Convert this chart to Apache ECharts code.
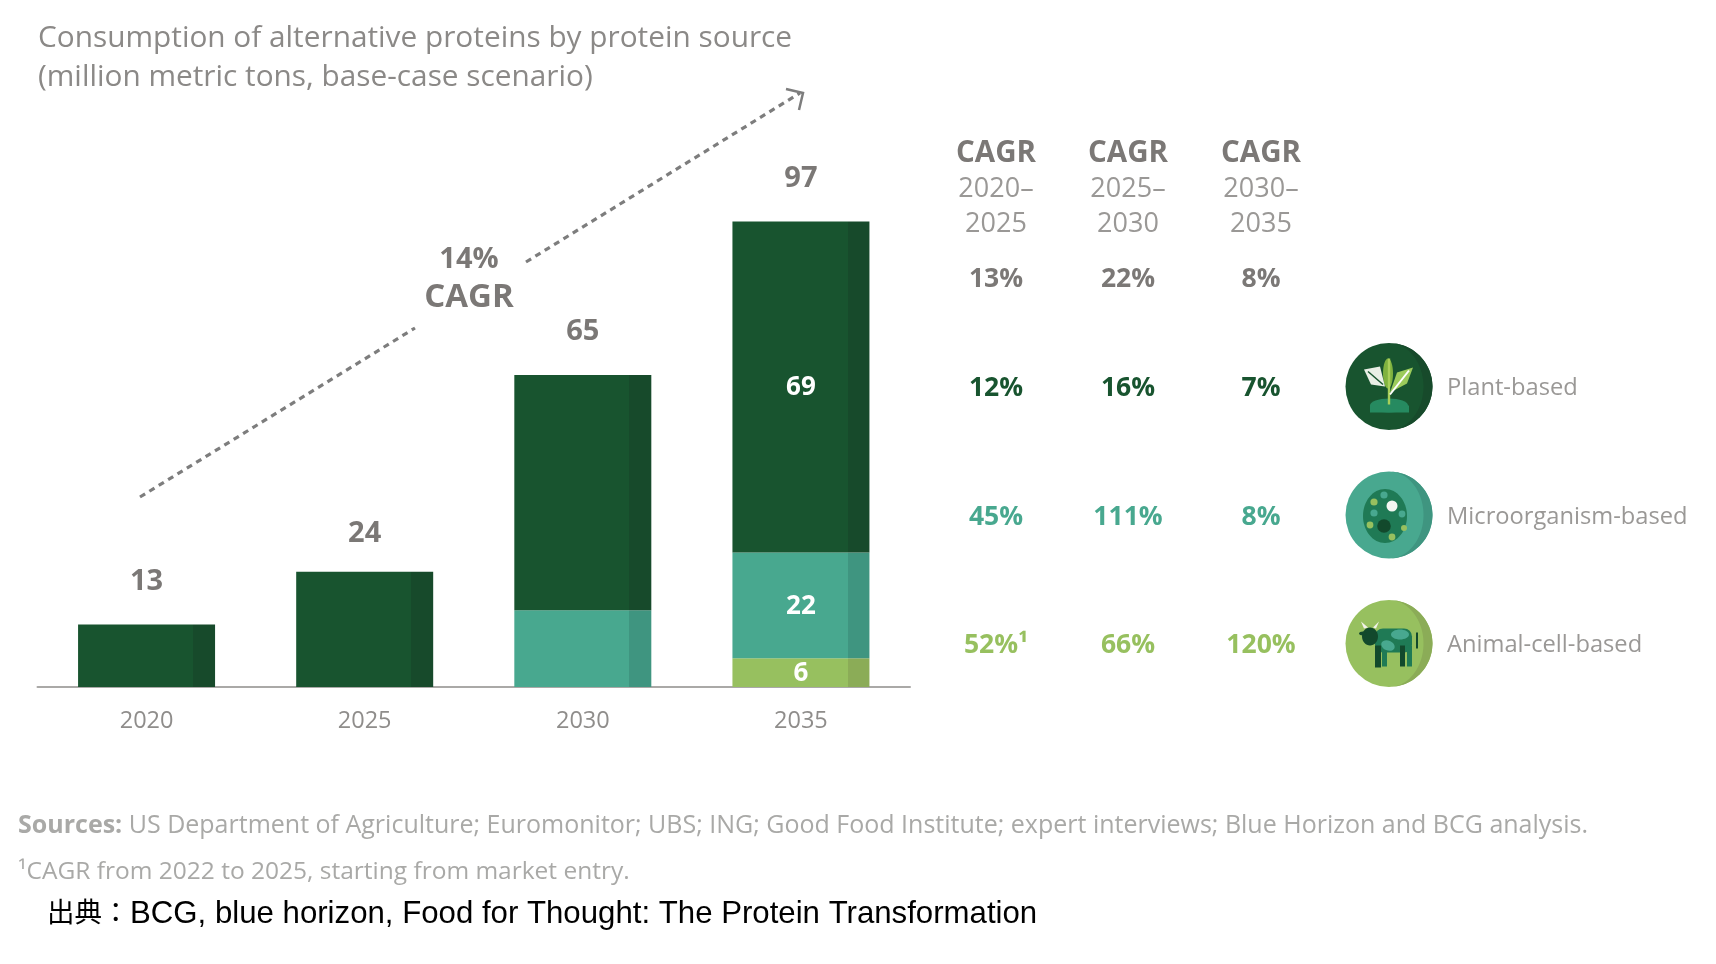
<!DOCTYPE html>
<html><head><meta charset="utf-8">
<style>html,body{margin:0;padding:0;background:#fff}#c{width:1716px;height:964px}</style>
<script src="https://cdn.jsdelivr.net/npm/echarts@6/dist/echarts.min.js"></script>
</head><body><div id="c"></div>
<script>
const categories = ['2020','2025','2030','2035'];
const plantBased = [13,24,49,69];
const microBased = [0,0,16,22];
const animalBased = [0,0,0,6];
const totals = [13,24,65,97];
const labelledYear = '2035';
const cagrHeaders = ['2020–\n2025','2025–\n2030','2030–\n2035'];
const cagrTotal = ['13%','22%','8%'];
const cagrPlant = ['12%','16%','7%'];
const cagrMicro = ['45%','111%','8%'];
const cagrAnimal = ['52%¹','66%','120%'];
const sourceNames = ['Plant-based','Microorganism-based','Animal-cell-based'];

const FONT='"Open Sans"';
const GREY='#7b7876', LIGHT='#9a9896';
const C={plant:'#18542f',plantD:'#174a2b',micro:'#48a88f',microD:'#3f9580',animal:'#97c05f',animalD:'#8bac57'};
const stripe=(a,b)=>({type:'linear',x:0,y:0,x2:1,y2:0,colorStops:[{offset:0,color:a},{offset:.84,color:a},{offset:.84,color:b},{offset:1,color:b}]});
const barSeries=(name,data,a,b)=>({name,type:'bar',stack:'s',barWidth:137,data:data.map((v,i)=>({value:v,label:{show:categories[i]===labelledYear}})),
  itemStyle:{color:stripe(a,b)},label:{position:'inside',offset:[0,1],color:'#fff',fontFamily:FONT,fontWeight:'bold',fontSize:26},silent:true});

const colX=[996,1128,1261];
const txt=(text,x,y,size,fill,weight,align,fam)=>({type:'text',silent:true,style:{text,x,y,fill,font:`${weight||'normal'} ${size}px ${fam||FONT}`,align:align||'center',verticalAlign:'middle',textAlign:align||'center',textVerticalAlign:'middle'}});
const g=[];
colX.forEach((x,i)=>{
  g.push(txt('CAGR',x,154,29.5,GREY,'bold'));
  const [a,b]=cagrHeaders[i].split('\n');
  g.push(txt(a,x,189,27,LIGHT));
  g.push(txt(b,x,224,27,LIGHT));
  g.push(txt(cagrTotal[i],x,279,26.5,GREY,'bold'));
  g.push(txt(cagrPlant[i],x,388,26.5,C.plant,'bold'));
  g.push(txt(cagrMicro[i],x,517,26.5,C.micro,'bold'));
  g.push(txt(cagrAnimal[i],x,645,26.5,C.animal,'bold'));
});
g.push(txt('14%',469,260,29,GREY,'bold'));
g.push(txt('CAGR',469,298,33,GREY,'bold'));
const dash={stroke:'#7d7d7d',lineWidth:3.2,lineDash:[6,5]};
g.push({type:'line',silent:true,shape:{x1:140,y1:497,x2:415,y2:328},style:dash});
g.push({type:'line',silent:true,shape:{x1:526,y1:262,x2:800,y2:93},style:dash});
g.push({type:'polyline',silent:true,shape:{points:[[786,89],[803,93],[799,110]]},style:{stroke:'#7d7d7d',lineWidth:2.5,fill:null}});

const cx=1389, R=43.5, ys=[386.5,515,643.5];
const circ=(x,y,r,fill)=>({type:'circle',silent:true,shape:{cx:x,cy:y,r},style:{fill}});
const ell=(x,y,rx,ry,fill,rot)=>({type:'ellipse',silent:true,x,y,rotation:rot||0,shape:{cx:0,cy:0,rx,ry},style:{fill}});
const poly=(pts,fill,ox,oy)=>({type:'polygon',silent:true,shape:{points:pts.map(p=>[p[0]+ox,p[1]+oy])},style:{fill}});
const rect=(x,y,w,h,fill,r)=>({type:'rect',silent:true,shape:{x,y,width:w,height:h,r:r||0},style:{fill}});
const crescent=(y,fill)=>{const pts=[];
  for(let a=-90;a<=90;a+=4){const t=a*Math.PI/180;pts.push([Math.cos(t)*R,Math.sin(t)*R]);}
  for(let a=90;a>=-90;a-=4){const t=a*Math.PI/180;pts.push([Math.cos(t)*(R-9),Math.sin(t)*R]);}
  return poly(pts,fill,cx,y);};
[[C.plant,C.plantD],[C.micro,C.microD],[C.animal,C.animalD]].forEach((c,i)=>{g.push(circ(cx,ys[i],R,c[0]));g.push(crescent(ys[i],c[1]));});
let y=ys[0];
g.push(ell(cx,y+19,19,7,'#268a60'),rect(cx-19,y+19,39,7,'#268a60'));
g.push(ell(cx-1,y-13,5,15,'#7fb23f'),rect(cx-1.2,y-28,2.4,46,'#a8cf5a'));
g.push(poly([[-25,-17],[-9,-20],[-4,0],[-18,-2]],'#e9efe6',cx,y));
g.push(poly([[24,-19],[8,-14],[1,6],[18,-3]],'#9ccb5b',cx,y));
g.push({type:'line',silent:true,shape:{x1:cx+1,y1:y+8,x2:cx+20,y2:y-16},style:{stroke:'#fff',lineWidth:2}});
g.push({type:'line',silent:true,shape:{x1:cx-21,y1:y-15,x2:cx-6,y2:y-2},style:{stroke:C.plant,lineWidth:1.5}});
y=ys[1];
g.push(ell(cx-4,y+1,22,27,'#1f7a55'));
[[3,-9,5.5,'#f3f7f2'],[-5,11,6.8,'#12492c'],[-5,-20,3.6,'#48a88f'],[-15,-2,3.6,'#48a88f'],[13,-1,3.4,'#48a88f'],[-15,-13,3.6,'#97c05f'],[-19,10,3.4,'#97c05f'],[15,13,3,'#97c05f'],[3,22,3.4,'#97c05f']]
 .forEach(d=>g.push(circ(cx+d[0],y+d[1],d[2],d[3])));
y=ys[2];
g.push(rect(cx-14,y-15,37,24,'#1f7a55',8));
g.push(rect(cx-14,y+2,6,22,'#12492c'),rect(cx-7,y+2,5,21,'#1f7a55'),rect(cx+11,y+2,5,21,'#12492c'),rect(cx+18,y+2,5,21,'#1f7a55'));
g.push(ell(cx+11,y-9,9,5,'#48a88f'),ell(cx-1,y+2,7,5,'#48a88f',-0.4));
g.push(ell(cx-19,y-7,8,9,'#12492c'),ell(cx-26,y-10,4,2,'#12492c'));
g.push(poly([[-25,-15],[-28,-22],[-21,-16]],'#f2f2ea',cx,y),poly([[-13,-15],[-10,-22],[-16,-16]],'#f2f2ea',cx,y));
g.push({type:'line',silent:true,shape:{x1:cx+28,y1:y-11,x2:cx+28,y2:y+5},style:{stroke:'#12492c',lineWidth:2}});
sourceNames.forEach((s,i)=>g.push(txt(s,1447,ys[i]+2,23.7,LIGHT,'normal','left')));
g.push({type:'text',silent:true,style:{x:18,y:826,text:'{b|Sources:} US Department of Agriculture; Euromonitor; UBS; ING; Good Food Institute; expert interviews; Blue Horizon and BCG analysis.',
  fill:'#a9a9a7',font:`25px ${FONT}`,verticalAlign:'middle',textVerticalAlign:'middle',rich:{b:{fontFamily:FONT,fontWeight:'bold',fontSize:25,fill:'#a9a9a7',color:'#a9a9a7'}}}});
g.push(txt('¹CAGR from 2022 to 2025, starting from market entry.',18,872,24.5,'#a9a9a7','normal','left'));
const BLACKFONT='"Liberation Sans","Noto Sans CJK JP"';
g.push(txt('出典：',47,914,27.5,'#000','normal','left',BLACKFONT));
g.push(txt('BCG, blue horizon, Food for Thought: The Protein Transformation',130,914,31.2,'#000','normal','left',BLACKFONT));

const chart=echarts.init(document.getElementById('c'),null,{renderer:'canvas'});
chart.setOption({
  animation:false,backgroundColor:'#fff',
  title:{text:'Consumption of alternative proteins by protein source\n(million metric tons, base-case scenario)',left:33,top:14,
    textStyle:{fontFamily:FONT,fontWeight:'normal',fontSize:29.8,lineHeight:39,color:'#8b8987'}},
  grid:{left:37.5,width:872.5,top:207,height:480},
  xAxis:{type:'category',data:categories,axisTick:{show:false},axisLine:{lineStyle:{color:'#aaa9a7',width:2}},
    axisLabel:{margin:22,fontFamily:FONT,fontSize:23.5,color:'#8f8d8b'}},
  yAxis:{type:'value',min:0,max:100,show:false,splitLine:{show:false}},
  series:[
    barSeries('Animal-cell-based',animalBased,C.animal,C.animalD),
    barSeries('Microorganism-based',microBased,C.micro,C.microD),
    barSeries('Plant-based',plantBased,C.plant,C.plantD),
    {name:'Total',type:'scatter',data:totals.map((v,i)=>({value:v,label:{offset:[0,categories[i]==='2025'?5:0]}})),symbolSize:1,itemStyle:{color:'rgba(0,0,0,0)',opacity:1},silent:true,
     label:{show:true,position:'top',distance:28,fontFamily:FONT,fontWeight:'bold',fontSize:29,color:GREY,opacity:1}}
  ],
  graphic:{elements:g}
});
</script></body></html>
